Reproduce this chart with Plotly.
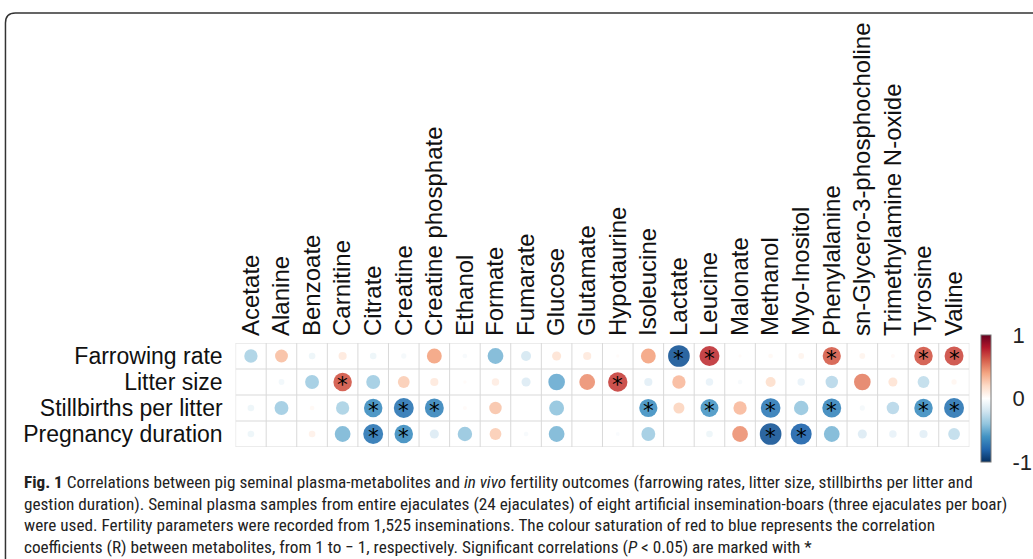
import numpy as np
import plotly.graph_objects as go

metabolites = ["Acetate", "Alanine", "Benzoate", "Carnitine", "Citrate", "Creatine",
               "Creatine phosphate", "Ethanol", "Formate", "Fumarate", "Glucose",
               "Glutamate", "Hypotaurine", "Isoleucine", "Lactate", "Leucine",
               "Malonate", "Methanol", "Myo-Inositol", "Phenylalanine",
               "sn-Glycero-3-phosphocholine", "Trimethylamine N-oxide", "Tyrosine", "Valine"]
outcomes = ["Farrowing rate", "Litter size", "Stillbirths per litter", "Pregnancy duration"]

farrowing_rate = [-0.32, 0.30, -0.08, 0.12, -0.08, -0.05, 0.40, -0.04, -0.45, -0.18, 0.15, 0.12,
                  0.02, 0.40, -0.85, 0.72, 0.02, 0.04, 0.06, 0.60, 0.06, 0.03, 0.62, 0.65]
litter_size = [0.00, -0.06, -0.35, 0.62, -0.35, 0.25, 0.12, 0.02, 0.10, -0.15, -0.50, 0.45,
               0.68, -0.12, 0.32, -0.10, -0.04, 0.18, -0.10, -0.28, 0.50, 0.15, -0.25, 0.05]
stillbirths = [-0.08, -0.35, 0.04, -0.32, -0.62, -0.72, -0.65, 0.03, 0.28, 0.00, -0.40, 0.00,
               0.00, -0.60, 0.22, -0.58, 0.32, -0.70, -0.38, -0.65, -0.05, -0.28, -0.62, -0.72]
pregnancy = [-0.08, 0.00, 0.08, -0.45, -0.72, -0.62, -0.15, -0.38, 0.25, -0.04, -0.45, 0.00,
             -0.03, -0.35, 0.00, -0.08, 0.45, -0.85, -0.80, -0.45, -0.15, -0.10, -0.12, -0.25]

sig_farrowing = ["Lactate", "Leucine", "Phenylalanine", "Tyrosine", "Valine"]
sig_litter = ["Carnitine", "Hypotaurine"]
sig_stillbirths = ["Citrate", "Creatine", "Creatine phosphate", "Isoleucine", "Leucine",
                   "Methanol", "Phenylalanine", "Tyrosine", "Valine"]
sig_pregnancy = ["Citrate", "Creatine", "Methanol", "Myo-Inositol"]

caption_lines = [
    "<b>Fig. 1</b> Correlations between pig seminal plasma-metabolites and <i>in vivo</i> fertility outcomes (farrowing rates, litter size, stillbirths per litter and",
    "gestion duration). Seminal plasma samples from entire ejaculates (24 ejaculates) of eight artificial insemination-boars (three ejaculates per boar)",
    "were used. Fertility parameters were recorded from 1,525 inseminations. The colour saturation of red to blue represents the correlation",
    "coefficients (R) between metabolites, from 1 to \u2212 1, respectively. Significant correlations (<i>P</i> &lt; 0.05) are marked with *",
]

rows = [farrowing_rate, litter_size, stillbirths, pregnancy]
sigs = [sig_farrowing, sig_litter, sig_stillbirths, sig_pregnancy]

rdbu = ["#053061", "#2166AC", "#4393C3", "#92C5DE", "#D1E5F0", "#FFFFFF",
        "#FDDBC7", "#F4A582", "#D6604D", "#B2182B", "#67001F"]
colorscale = [[i / 10, c] for i, c in enumerate(rdbu)]

W, H = 1033, 559
xs, ys, vals = [], [], []
for j, row in enumerate(rows):
    for i, v in enumerate(row):
        xs.append(i)
        ys.append(j)
        vals.append(v)
vals = np.array(vals)

fig = go.Figure()
fig.add_trace(go.Scatter(
    x=xs, y=ys, mode="markers",
    marker=dict(size=23.5 * np.sqrt(np.abs(vals)), color=vals, colorscale=colorscale,
                cmin=-1, cmax=1, line=dict(width=0), opacity=0.92,
                colorbar=dict(thickness=10, lenmode="pixels", len=127,
                              x=987 / W, xanchor="left", y=1 - 398.5 / H, yanchor="middle",
                              tickvals=[-1, 0, 1], ticktext=["-1", "0", "1"],
                              ticks="outside", ticklen=17, tickcolor="rgba(0,0,0,0)",
                              tickfont=dict(size=22, family="Liberation Sans, Arial", color="#222"),
                              outlinewidth=1, outlinecolor="#777", xpad=0, ypad=0)),
    hoverinfo="skip", showlegend=False))

shapes = []
nx, ny = len(metabolites), len(outcomes)
for i in range(nx + 1):
    shapes.append(dict(type="line", xref="x", yref="y", x0=i - 0.5, x1=i - 0.5,
                       y0=-0.5, y1=ny - 0.5, line=dict(color="#d9d9d9", width=1), layer="below"))
for j in range(ny + 1):
    shapes.append(dict(type="line", xref="x", yref="y", x0=-0.5, x1=nx - 0.5,
                       y0=j - 0.5, y1=j - 0.5, line=dict(color="#d9d9d9", width=1), layer="below"))

# rounded frame
lx, ty, r = 5.5 / W, 1 - 13 / H, 10
path = (f"M {lx},-0.05 L {lx},{ty - r / H} Q {lx},{ty} {lx + r / W},{ty} L 1.05,{ty}")
shapes.append(dict(type="path", xref="paper", yref="paper", path=path,
                   line=dict(color="#333", width=1.5)))

annotations = []
for j, sl in enumerate(sigs):
    for name in sl:
        annotations.append(dict(x=metabolites.index(name), y=j, xref="x", yref="y", text="*",
                                showarrow=False, yshift=-2,
                                font=dict(size=21.5, color="black", family="DejaVu Sans")))

cap_y = [481.7, 503.5, 525, 546.5]
for line, py in zip(caption_lines, cap_y):
    annotations.append(dict(x=22 / W, y=1 - py / H, xref="paper", yref="paper", text=line,
                            xanchor="left", yanchor="middle", showarrow=False, align="left",
                            font=dict(size=17.2, color="#222",
                                      family="Roboto Condensed, Liberation Sans Narrow, Roboto")))

fig.update_layout(
    width=W, height=H, margin=dict(l=0, r=0, t=0, b=0),
    paper_bgcolor="white", plot_bgcolor="white",
    xaxis=dict(domain=[237 / W, 975 / W], range=[-0.5, nx - 0.5], side="top",
               tickmode="array", tickvals=list(range(nx)), ticktext=metabolites, tickangle=-90,
               tickfont=dict(size=24, family="Liberation Sans, Arial", color="#111"),
               showgrid=False, zeroline=False, showline=False, ticks="", automargin=False,
               ticklabelstandoff=6),
    yaxis=dict(domain=[1 - 447 / H, 1 - 343 / H], range=[ny - 0.5, -0.5],
               tickmode="array", tickvals=list(range(ny)), ticktext=outcomes,
               tickfont=dict(size=23, family="Liberation Sans, Arial", color="#111"),
               showgrid=False, zeroline=False, showline=False, ticks="", automargin=False,
               ticklabelstandoff=12),
    shapes=shapes, annotations=annotations,
)

fig.write_html("out.html")
